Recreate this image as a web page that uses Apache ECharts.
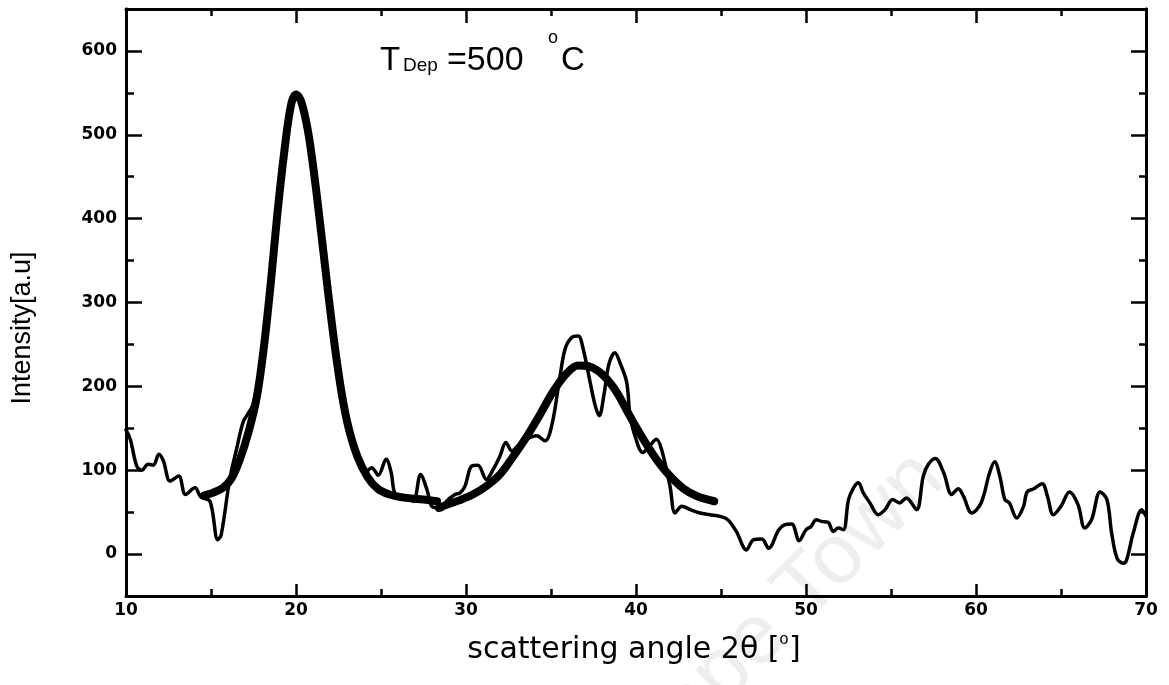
<!DOCTYPE html>
<html>
<head>
<meta charset="utf-8">
<script src="https://cdn.jsdelivr.net/npm/echarts@6/dist/echarts.min.js"></script>
<style>
html, body { margin: 0; padding: 0; background: #fff; }
#chart { width: 1169px; height: 685px; }
</style>
</head>
<body>
<div id="chart"></div>
<script>
// measured curve (thin line)
const rawX = [10.0, 10.25, 10.63, 10.92, 11.3, 11.6, 11.94, 12.2, 12.6, 13.1, 13.5, 14.06, 14.4, 14.94, 15.4, 15.6,
    16.1, 16.5, 16.9, 17.2, 17.5, 17.9, 18.3, 18.7, 19.1, 19.5, 19.85, 20.15, 20.5, 20.9, 21.15, 21.5, 21.9, 22.3,
    22.7, 23.1, 23.5, 23.9, 24.15, 24.45, 24.84, 25.3, 25.6, 25.8, 26.2, 26.5, 26.9, 27.33, 27.7, 27.98, 28.3, 28.57,
    28.86, 29.35, 29.65, 29.94, 30.33, 30.7, 31.2, 31.6, 32.0, 32.35, 32.7, 33.1, 33.57, 34.16, 34.65, 35.04, 35.5,
    35.82, 36.2, 36.6, 36.9, 37.3, 37.6, 37.84, 38.1, 38.4, 38.76, 39.06, 39.45, 39.65, 39.94, 40.4, 40.8, 41.2, 41.5,
    42.0, 42.3, 42.7, 43.2, 43.76, 44.35, 44.94, 45.4, 45.9, 46.5, 46.9, 47.4, 47.8, 48.4, 48.76, 49.16, 49.6, 50.0,
    50.3, 50.6, 50.9, 51.3, 51.6, 51.9, 52.2, 52.5, 52.8, 53.08, 53.37, 53.76, 54.25, 54.65, 55.1, 55.5, 55.9, 56.5,
    56.9, 57.2, 57.6, 58.1, 58.57, 58.96, 59.26, 59.75, 60.3, 60.8, 61.1, 61.4, 61.7, 61.96, 62.4, 62.8, 63.0, 63.4,
    63.9, 64.2, 64.55, 65.0, 65.5, 66.0, 66.4, 66.8, 67.3, 67.7, 67.98, 68.3, 68.66, 68.86, 69.25, 69.75, 70.0];
const rawY = [148, 137, 105, 100, 107, 106, 119, 111, 87, 93, 71, 79, 68, 63, 17, 23,
    89, 125, 158, 168, 180, 225, 295, 375, 452, 515, 547, 549, 530, 478, 433, 385, 312, 248,
    192, 148, 118, 103, 99, 103, 94, 113, 97, 73, 65, 67, 63, 95, 77, 57, 55, 53,
    63, 71, 73, 81, 105, 106, 89, 101, 117, 133, 123, 130, 137, 141, 135, 153, 208,
    244, 258, 260, 244, 205, 177, 165, 188, 226, 240, 228, 205, 165, 141, 121, 129, 137, 125,
    81, 49, 57, 53, 49, 47, 45, 41, 27, 5, 17, 18, 7, 29, 35, 36, 16, 29,
    33, 41, 39, 38, 27, 31, 29, 65, 79, 85, 73, 61, 47, 53, 65, 61, 67, 53,
    93, 107, 114, 97, 71, 78, 69, 49, 61, 97, 110, 93, 65, 61, 43, 57, 74, 78,
    84, 69, 47, 57, 74, 59, 31, 41, 74, 65, 25, -5, -11, -7, 25, 53, 45];

// fitted peak near 20 deg (thick line)
const fit1X = [14.6, 15.1, 15.7, 16.2, 16.7, 17.2, 17.7, 18.1, 18.5, 18.9, 19.3, 19.7, 20.0, 20.3, 20.7, 21.1,
    21.5, 21.9, 22.3, 22.7, 23.1, 23.6, 24.2, 24.8, 25.5, 26.5, 27.5, 28.3];
const fit1Y = [70, 73, 79, 90, 113, 145, 188, 245, 320, 405, 478, 535, 548, 540, 505, 448,
    380, 310, 245, 190, 150, 117, 92, 78, 71, 67, 65, 63];

// fitted peak near 37 deg (thick line)
const fit2X = [28.4, 28.9, 29.6, 30.4, 31.2, 32.0, 32.8, 33.6, 34.4, 35.1, 35.9, 36.6, 37.2, 37.8, 38.4, 38.9,
    39.6, 40.4, 41.2, 42.0, 42.8, 43.6, 44.6];
const fit2Y = [55, 59, 64, 71, 81, 95, 117, 141, 168, 193, 215, 225, 224, 218, 206, 192,
    166, 138, 113, 93, 78, 69, 63];

const xTicks = [10, 20, 30, 40, 50, 60, 70];
const yTicks = [0, 100, 200, 300, 400, 500, 600];
const yMinorTicks = [50, 150, 250, 350, 450, 550];

function pairs(xs, ys) {
    return xs.map(function (x, i) { return [x, ys[i]]; });
}

var chart = echarts.init(document.getElementById('chart'));

var black = '#000';
var tickFont = { color: black, fontFamily: 'DejaVu Sans', fontWeight: 'bold', fontSize: 17 };

function xAxisDef(pos, tickLen, showLabel) {
    return {
        type: 'value',
        position: pos,
        min: xTicks[0],
        max: xTicks[xTicks.length - 1],
        interval: 10,
        axisLine: { show: true, onZero: false, lineStyle: { color: black, width: 3 } },
        axisTick: { show: true, inside: true, length: tickLen, lineStyle: { color: black, width: 2.5 } },
        minorTick: { show: true, splitNumber: 2, length: 7, lineStyle: { color: black, width: 2.5 } },
        axisLabel: Object.assign({ show: showLabel, margin: 6, showMinLabel: true, showMaxLabel: true }, tickFont),
        splitLine: { show: false },
        minorSplitLine: { show: false }
    };
}

function yAxisDef(pos, ticks, tickLen, showLabel) {
    return {
        type: 'value',
        position: pos,
        min: -50,
        max: 650,
        axisLine: { show: true, onZero: false, lineStyle: { color: black, width: 3 } },
        axisTick: { show: true, inside: true, length: tickLen, customValues: ticks, lineStyle: { color: black, width: 2.5 } },
        axisLabel: Object.assign({ show: showLabel, margin: 9, customValues: yTicks }, tickFont),
        splitLine: { show: false }
    };
}

var lineSeries = function (name, xs, ys, width) {
    return {
        name: name,
        type: 'line',
        data: pairs(xs, ys),
        showSymbol: false,
        smooth: 0.35,
        lineStyle: { color: black, width: width, cap: 'round', join: 'round' },
        z: width > 5 ? 4 : 3
    };
};

var option = {
    animation: false,
    backgroundColor: '#fff',
    grid: { left: 126, right: 23, top: 9, bottom: 89, containLabel: false },
    xAxis: [
        xAxisDef('bottom', 12, true),
        xAxisDef('top', 14, false)
    ],
    yAxis: [
        yAxisDef('left', yTicks, 16, true),
        yAxisDef('left', yMinorTicks, 8, false),
        yAxisDef('right', yTicks, 15, false),
        yAxisDef('right', yMinorTicks, 7, false)
    ],
    series: [
        lineSeries('measured', rawX, rawY, 3.5),
        lineSeries('fit 1', fit1X, fit1Y, 8),
        lineSeries('fit 2', fit2X, fit2Y, 8)
    ],
    graphic: [
        // faint watermark
        {
            type: 'text', x: 780, y: 616, rotation: Math.PI / 4, z: 0, silent: true,
            style: { text: 'Cape Town', fill: '#eeeeee', font: '85px "Liberation Sans"', align: 'center', verticalAlign: 'middle' }
        },
        // T_Dep = 500 °C
        { type: 'text', x: 380, y: 61, style: { text: 'T', fill: black, font: '33px "Liberation Sans"', verticalAlign: 'middle' } },
        { type: 'text', x: 403, y: 66, style: { text: 'Dep', fill: black, font: '19px "Liberation Sans"', verticalAlign: 'middle' } },
        { type: 'text', x: 447, y: 61, style: { text: '=500', fill: black, font: '34px "Liberation Sans"', verticalAlign: 'middle' } },
        { type: 'text', x: 548, y: 38, style: { text: 'o', fill: black, font: '18px "Liberation Sans"', verticalAlign: 'middle' } },
        { type: 'text', x: 561, y: 61, style: { text: 'C', fill: black, font: '33px "Liberation Sans"', verticalAlign: 'middle' } },
        // axis titles
        {
            type: 'text', x: 634, y: 650,
            style: { text: 'scattering angle 2θ [ ]', fill: black, font: '30px "DejaVu Sans"', align: 'center', verticalAlign: 'middle' }
        },
        { type: 'text', x: 784, y: 640, style: { text: 'o', fill: black, font: '16px "Liberation Sans"', align: 'center', verticalAlign: 'middle' } },
        {
            type: 'text', x: 23, y: 328, rotation: Math.PI / 2,
            style: { text: 'Intensity[a.u]', fill: black, font: '27px "Liberation Sans"', align: 'center', verticalAlign: 'middle' }
        }
    ]
};

chart.setOption(option);
</script>
</body>
</html>
